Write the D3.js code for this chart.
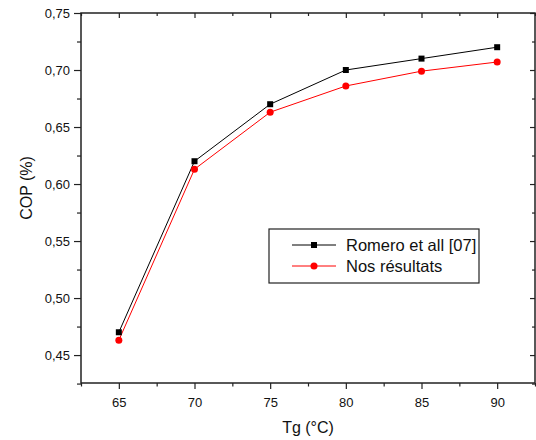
<!DOCTYPE html>
<html><head><meta charset="utf-8">
<script src="https://cdn.jsdelivr.net/npm/d3@7"></script>
<style>html,body{margin:0;padding:0;background:#fff;} text{font-family:Arial,"Liberation Sans",sans-serif;}</style>
</head><body>
<svg id="c" width="536" height="440"></svg>
<script>
const tg = [65, 70, 75, 80, 85, 90];
const romero = [0.470, 0.620, 0.670, 0.700, 0.710, 0.720];
const nos = [0.463, 0.613, 0.663, 0.686, 0.699, 0.707];
const seriesNames = ["Romero et all [07]", "Nos résultats"];
const xTicks = [65, 70, 75, 80, 85, 90];
const yTicks = [0.45, 0.50, 0.55, 0.60, 0.65, 0.70, 0.75];
const xMinor = [62.5, 67.5, 72.5, 77.5, 82.5, 87.5, 92.5];
const yMinor = [0.425, 0.475, 0.525, 0.575, 0.625, 0.675, 0.725];

const svg = d3.select("#c");
const L = 81, R = 535, T = 13, B = 383;
const x = d3.scaleLinear().domain([62.5, 92.5]).range([L, R]);
const y = d3.scaleLinear().domain([0.4255, 0.75]).range([B, T]);
const fmt = d => d3.format(".2f")(d).replace(".", ",");
const axCol = "#222";

// bottom axis
const gB = svg.append("g").attr("transform", `translate(0,${B})`)
  .call(d3.axisBottom(x).tickValues(xTicks).tickSize(6).tickPadding(9).tickFormat(d3.format("d")));
svg.append("g").attr("transform", `translate(0,${B})`)
  .call(d3.axisBottom(x).tickValues(xMinor).tickSize(3.5).tickFormat(""));
// left axis
const gL = svg.append("g").attr("transform", `translate(${L},0)`)
  .call(d3.axisLeft(y).tickValues(yTicks).tickSize(7).tickPadding(4).tickFormat(fmt));
svg.append("g").attr("transform", `translate(${L},0)`)
  .call(d3.axisLeft(y).tickValues(yMinor).tickSize(4).tickFormat(""));
// top axis (inward ticks)
svg.append("g").attr("transform", `translate(0,${T})`)
  .call(d3.axisBottom(x).tickValues(xTicks).tickSize(5).tickFormat(""));
svg.append("g").attr("transform", `translate(0,${T})`)
  .call(d3.axisBottom(x).tickValues(xMinor).tickSize(3).tickFormat(""));
// right axis (inward ticks)
svg.append("g").attr("transform", `translate(${R},0)`)
  .call(d3.axisLeft(y).tickValues(yTicks).tickSize(5).tickFormat(""));
svg.append("g").attr("transform", `translate(${R},0)`)
  .call(d3.axisLeft(y).tickValues(yMinor).tickSize(3).tickFormat(""));

svg.selectAll(".domain").remove();
svg.selectAll(".tick line").attr("stroke", axCol).attr("stroke-width", 1.2);
svg.selectAll(".tick text").attr("fill", "#111").style("font-size", "13px");

// frame
svg.append("rect").attr("x", L).attr("y", T).attr("width", R - L).attr("height", B - T)
  .attr("fill", "none").attr("stroke", axCol).attr("stroke-width", 1.5);

// axis titles
svg.append("text").attr("x", (L + R) / 2).attr("y", 433).attr("text-anchor", "middle")
  .style("font-size", "16px").attr("fill", "#111").text("Tg (°C)");
svg.append("text").attr("transform", "translate(32,188) rotate(-90)").attr("text-anchor", "middle")
  .style("font-size", "16px").attr("fill", "#111").text("COP (%)");

// series
const line = d3.line().x((d, i) => x(tg[i])).y(d => y(d));
svg.append("path").datum(romero).attr("d", line).attr("fill", "none").attr("stroke", "#000").attr("stroke-width", 1);
svg.append("path").datum(nos).attr("d", line).attr("fill", "none").attr("stroke", "#ff0000").attr("stroke-width", 1);
svg.selectAll(".sq").data(romero).enter().append("rect")
  .attr("x", (d, i) => x(tg[i]) - 3).attr("y", d => y(d) - 3).attr("width", 6).attr("height", 6).attr("fill", "#000");
svg.selectAll(".ci").data(nos).enter().append("circle")
  .attr("cx", (d, i) => x(tg[i])).attr("cy", d => y(d)).attr("r", 3.5).attr("fill", "#ff0000");

// legend
const lg = svg.append("g");
lg.append("rect").attr("x", 269).attr("y", 229).attr("width", 210).attr("height", 54)
  .attr("fill", "#fff").attr("stroke", axCol).attr("stroke-width", 1.2);
const rows = [{c: "#000", m: "sq", yy: 245}, {c: "#ff0000", m: "ci", yy: 266}];
rows.forEach((r, i) => {
  lg.append("line").attr("x1", 292).attr("x2", 336).attr("y1", r.yy).attr("y2", r.yy).attr("stroke", r.c).attr("stroke-width", 1);
  if (r.m === "sq") lg.append("rect").attr("x", 311).attr("y", r.yy - 3).attr("width", 6).attr("height", 6).attr("fill", r.c);
  else lg.append("circle").attr("cx", 314).attr("cy", r.yy).attr("r", 3.5).attr("fill", r.c);
  lg.append("text").attr("x", 346).attr("y", r.yy + 6).style("font-size", "16.5px").attr("fill", "#111").text(seriesNames[i]);
});
</script>
</body></html>
